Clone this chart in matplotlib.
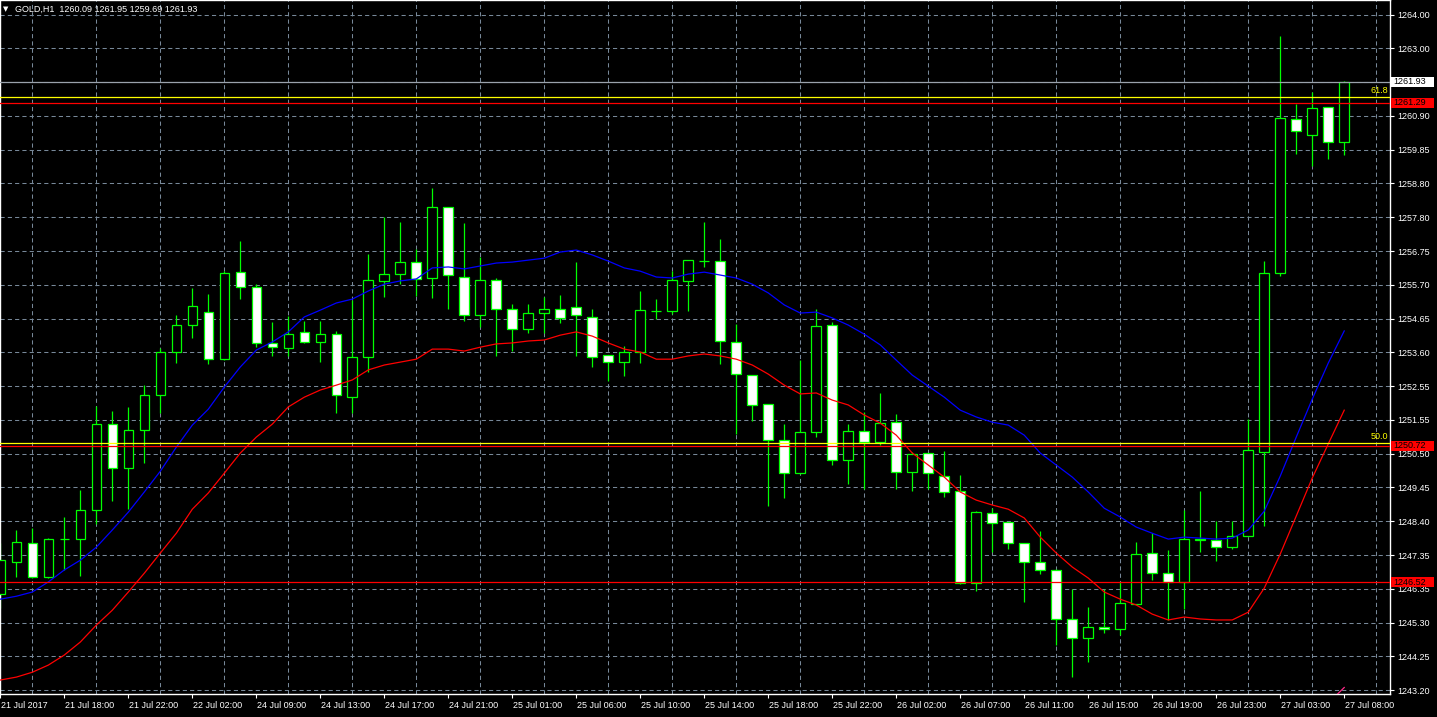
import matplotlib.pyplot as plt
import matplotlib.transforms as mtransforms
from matplotlib.patches import Rectangle
import numpy as np

# GOLD H1 candles (85 bars)
opens = [1246.15, 1247.15, 1247.72, 1246.69, 1247.84, 1247.84, 1248.76, 1251.39, 1250.03, 1251.21,
         1252.28, 1253.62, 1254.43, 1254.83, 1253.41, 1256.06, 1255.60, 1253.88, 1253.72, 1254.22,
         1253.93, 1254.15, 1252.23, 1253.47, 1255.81, 1256.02, 1256.37, 1255.88, 1258.07, 1255.93,
         1254.74, 1255.83, 1254.92, 1254.31, 1254.80, 1254.92, 1255.00, 1254.70, 1253.51, 1253.29,
         1253.60, 1254.88, 1254.88, 1255.81, 1256.41, 1256.41, 1253.91, 1252.90, 1252.00, 1250.90,
         1249.87, 1251.14, 1254.44, 1250.30, 1251.17, 1250.85, 1251.46, 1249.93, 1250.49, 1249.79,
         1249.33, 1246.49, 1248.64, 1248.38, 1247.72, 1247.13, 1246.89, 1245.38, 1244.79, 1245.13,
         1245.07, 1245.85, 1247.43, 1246.81, 1246.52, 1247.81, 1247.81, 1247.61, 1247.95, 1250.53,
         1256.05, 1260.79, 1260.29, 1261.16, 1260.09]
highs = [1247.73, 1248.13, 1248.20, 1247.87, 1248.54, 1249.36, 1251.95, 1251.79, 1251.91, 1252.59,
         1253.72, 1254.75, 1255.57, 1255.40, 1256.11, 1257.03, 1255.72, 1254.53, 1254.72, 1254.56,
         1254.57, 1254.26, 1255.21, 1256.63, 1257.78, 1257.61, 1256.77, 1258.65, 1258.08, 1257.57,
         1256.53, 1255.88, 1255.09, 1255.09, 1255.31, 1255.36, 1256.39, 1254.93, 1253.51, 1253.79,
         1255.49, 1255.23, 1256.11, 1256.44, 1257.60, 1257.09, 1254.46, 1252.90, 1252.00, 1251.39,
         1253.36, 1254.93, 1254.54, 1251.39, 1251.77, 1252.34, 1251.70, 1250.54, 1250.49, 1250.56,
         1249.82, 1248.71, 1248.80, 1248.38, 1247.72, 1248.10, 1246.92, 1246.31, 1245.76, 1246.31,
         1246.53, 1247.77, 1248.03, 1247.51, 1248.75, 1249.32, 1248.40, 1248.40, 1251.55, 1256.41,
         1263.35, 1261.26, 1261.62, 1261.16, 1261.95]
lows = [1245.72, 1246.69, 1246.64, 1246.64, 1246.89, 1246.71, 1248.31, 1249.03, 1248.79, 1250.18,
        1251.74, 1253.28, 1254.03, 1253.24, 1253.38, 1255.24, 1253.77, 1253.49, 1253.49, 1253.88,
        1253.31, 1251.74, 1251.74, 1253.00, 1255.31, 1255.72, 1255.33, 1255.26, 1254.95, 1254.57,
        1254.39, 1253.49, 1253.65, 1254.20, 1254.20, 1254.51, 1253.49, 1253.16, 1252.73, 1252.88,
        1253.28, 1254.62, 1254.78, 1254.88, 1256.22, 1253.23, 1251.08, 1251.49, 1248.87, 1249.13,
        1249.85, 1251.00, 1250.13, 1249.54, 1249.38, 1250.74, 1249.40, 1249.34, 1249.38, 1249.14,
        1246.46, 1246.26, 1247.44, 1247.53, 1245.90, 1246.77, 1244.59, 1243.59, 1244.07, 1244.96,
        1244.89, 1245.85, 1246.59, 1245.37, 1245.70, 1247.44, 1247.18, 1247.55, 1247.95, 1248.26,
        1255.95, 1259.71, 1259.35, 1259.56, 1259.69]
closes = [1247.20, 1247.75, 1246.69, 1247.84, 1247.84, 1248.76, 1251.39, 1250.03, 1251.21, 1252.28,
          1253.60, 1254.43, 1255.02, 1253.41, 1256.03, 1255.60, 1253.88, 1253.75, 1254.18, 1253.91,
          1254.18, 1252.28, 1253.45, 1255.83, 1256.00, 1256.37, 1255.85, 1258.07, 1255.97, 1254.74,
          1255.83, 1254.92, 1254.31, 1254.80, 1254.92, 1254.65, 1254.74, 1253.47, 1253.29, 1253.60,
          1254.90, 1254.88, 1255.83, 1256.44, 1256.41, 1253.95, 1252.93, 1251.98, 1250.90, 1249.90,
          1251.14, 1254.41, 1250.30, 1251.17, 1250.83, 1251.44, 1249.93, 1250.47, 1249.90, 1249.29,
          1246.49, 1248.67, 1248.36, 1247.72, 1247.15, 1246.89, 1245.38, 1244.79, 1245.13, 1245.07,
          1245.87, 1247.40, 1246.81, 1246.52, 1247.86, 1247.86, 1247.61, 1247.95, 1250.59, 1256.04,
          1260.82, 1260.42, 1261.13, 1260.09, 1261.93]

# moving averages (blue = fast, red = slow)
ma_blue = [1246.00, 1246.09, 1246.22, 1246.53, 1246.90, 1247.20, 1247.60, 1248.13, 1248.68, 1249.30,
           1249.94, 1250.68, 1251.36, 1251.85, 1252.53, 1253.15, 1253.67, 1253.92, 1254.23, 1254.69,
           1254.90, 1255.12, 1255.24, 1255.49, 1255.70, 1255.80, 1255.86, 1256.20, 1256.23, 1256.17,
           1256.26, 1256.35, 1256.38, 1256.44, 1256.50, 1256.69, 1256.75, 1256.60, 1256.41, 1256.20,
           1256.10, 1255.92, 1255.89, 1256.01, 1256.07, 1255.98, 1255.89, 1255.70, 1255.43, 1255.06,
           1254.81, 1254.84, 1254.66, 1254.44, 1254.16, 1253.83, 1253.36, 1252.90, 1252.56, 1252.22,
           1251.82, 1251.61, 1251.45, 1251.36, 1251.05, 1250.50, 1250.13, 1249.76, 1249.30, 1248.80,
           1248.53, 1248.22, 1248.03, 1247.85, 1247.91, 1247.88, 1247.85, 1247.88, 1248.13, 1248.71,
           1249.79, 1250.99, 1252.16, 1253.27, 1254.26]
ma_red = [1243.51, 1243.60, 1243.75, 1243.97, 1244.28, 1244.68, 1245.20, 1245.66, 1246.22, 1246.80,
          1247.42, 1248.03, 1248.77, 1249.27, 1249.88, 1250.50, 1250.99, 1251.39, 1251.92, 1252.22,
          1252.44, 1252.59, 1252.75, 1253.06, 1253.21, 1253.30, 1253.39, 1253.70, 1253.70, 1253.64,
          1253.76, 1253.86, 1253.89, 1253.95, 1253.98, 1254.13, 1254.23, 1254.10, 1253.89, 1253.70,
          1253.61, 1253.39, 1253.39, 1253.49, 1253.55, 1253.49, 1253.39, 1253.21, 1252.93, 1252.59,
          1252.32, 1252.35, 1252.13, 1251.98, 1251.67, 1251.42, 1251.05, 1250.50, 1250.13, 1249.76,
          1249.30, 1249.05, 1248.90, 1248.77, 1248.50, 1247.91, 1247.42, 1246.99, 1246.65, 1246.22,
          1246.00, 1245.82, 1245.54, 1245.36, 1245.45, 1245.39, 1245.36, 1245.36, 1245.60, 1246.34,
          1247.39, 1248.56, 1249.73, 1250.78, 1251.82]
# third MA only just enters the window at the bottom right (bars 82-84)
ma_pink_tail = [1242.35, 1242.80, 1243.28]

# horizontal levels
bid = 1261.93
fibo_levels = [1261.45, 1250.80]
fibo_names = ["61.8", "50.0"]
red_levels = [1261.29, 1250.72, 1246.52]

# 1261.95 sits under the bid box in the original, so it is left blank
price_ticks = ["1243.20", "1244.25", "1245.30", "1246.35", "1247.35", "1248.40", "1249.45",
               "1250.50", "1251.55", "1252.55", "1253.60", "1254.65", "1255.70", "1256.75",
               "1257.80", "1258.80", "1259.85", "1260.90", "", "1263.00", "1264.00"]
time_ticks = ["21 Jul 2017", "21 Jul 18:00", "21 Jul 22:00", "22 Jul 02:00", "24 Jul 09:00",
              "24 Jul 13:00", "24 Jul 17:00", "24 Jul 21:00", "25 Jul 01:00", "25 Jul 06:00",
              "25 Jul 10:00", "25 Jul 14:00", "25 Jul 18:00", "25 Jul 22:00", "26 Jul 02:00",
              "26 Jul 07:00", "26 Jul 11:00", "26 Jul 15:00", "26 Jul 19:00", "26 Jul 23:00",
              "27 Jul 03:00", "27 Jul 08:00"]

plt.rcParams['font.family'] = ['Liberation Sans', 'DejaVu Sans']
GREEN = "#00ff00"
GRID = "#778899"

W, H = 1437, 717
fig = plt.figure(figsize=(W / 100, H / 100), dpi=100, facecolor="black")
ax = fig.add_axes([0, 23 / H, 1390 / W, 694 / H], facecolor="black")

n = len(opens)
x = np.arange(n)
o = np.array(opens); c = np.array(closes)

# grid
ax.set_xticks(np.arange(0, 87, 2), minor=True)
ax.set_xticks(np.arange(0, n, 4))
ax.set_xticklabels(time_ticks)
ax.set_yticks(np.linspace(1243.20, 1264.00, len(price_ticks)))
ax.set_yticklabels(price_ticks)
ax.grid(which="minor", axis="x", color=GRID, lw=0.75, ls=(0, (4, 3)), zorder=0)
ax.grid(which="major", axis="y", color=GRID, lw=0.75, ls=(0, (4, 3)), zorder=0)
ax.set_axisbelow(True)

# candles
ax.vlines(x, lows, highs, color=GREEN, lw=0.9, zorder=2)
fill = np.where(c > o, "black", "white")
ax.bar(x, np.abs(c - o), bottom=np.minimum(o, c), width=0.6, color=fill,
       edgecolor=GREEN, linewidth=0.9, zorder=3)

# indicators
ax.plot(x, ma_blue, color="#0000ff", lw=0.9, zorder=4)
ax.plot(x, ma_red, color="#ff0000", lw=0.9, zorder=4)
ax.plot(x[-3:], ma_pink_tail, color="#ff2a8a", lw=0.9, zorder=4)

ax.axhline(bid, color="#9aa2ac", lw=0.9, zorder=5)
for lv, nm in zip(fibo_levels, fibo_names):
    ax.axhline(lv, color="#ffff00", lw=0.9, zorder=5)
    ax.text(86.75, lv + 0.07, nm, color="#ffff00", fontsize=6.5, ha="right", va="bottom", zorder=6)
for lv in red_levels:
    ax.axhline(lv, color="#ff0000", lw=0.9, zorder=5)

ax.set_xlim(-0.02, 86.86)
ax.set_ylim(1243.08, 1264.45)

# axes styling
for s in ax.spines.values():
    s.set_color("white")
    s.set_linewidth(1)
ax.yaxis.tick_right()
ax.tick_params(axis="y", colors="white", labelsize=6.5, length=3, width=0.8, pad=2)
ax.tick_params(axis="x", colors="white", labelsize=6.5, length=3, width=0.8, pad=2)
ax.tick_params(which="minor", length=0)
shift = mtransforms.ScaledTranslation(1 / 100, 0, fig.dpi_scale_trans)
for lbl in ax.get_xticklabels():
    lbl.set_horizontalalignment("left")
    lbl.set_transform(lbl.get_transform() + shift)

# price boxes on the right scale
tr = mtransforms.blended_transform_factory(ax.transAxes, ax.transData)
bx0, bw, bh = 1391 / 1390, 43 / 1390, 0.31
boxes = [(bid, "white")] + [(lv, "#ff0000") for lv in red_levels]
for lv, col in boxes:
    ax.add_patch(Rectangle((bx0, lv - bh / 2), bw, bh, transform=tr, facecolor=col,
                           edgecolor="none", clip_on=False, zorder=10))
    ax.text(bx0 + 0.0015, lv, f"{lv:.2f}", transform=tr, color="black", fontsize=6.5,
            ha="left", va="center", clip_on=False, zorder=11)

# header
ax.text(3 / 1390, 1 - 9 / 694, "\u25bc", transform=ax.transAxes, color="white",
        fontsize=5, family=["DejaVu Sans"], va="center", ha="left")
ax.text(15 / 1390, 1 - 9 / 694,
        f"GOLD,H1  {opens[-1]:.2f} {highs[-1]:.2f} {lows[-1]:.2f} {closes[-1]:.2f}",
        transform=ax.transAxes, color="white", fontsize=6.5, va="center", ha="left")

fig.savefig("out.png", dpi=100, facecolor="black")
